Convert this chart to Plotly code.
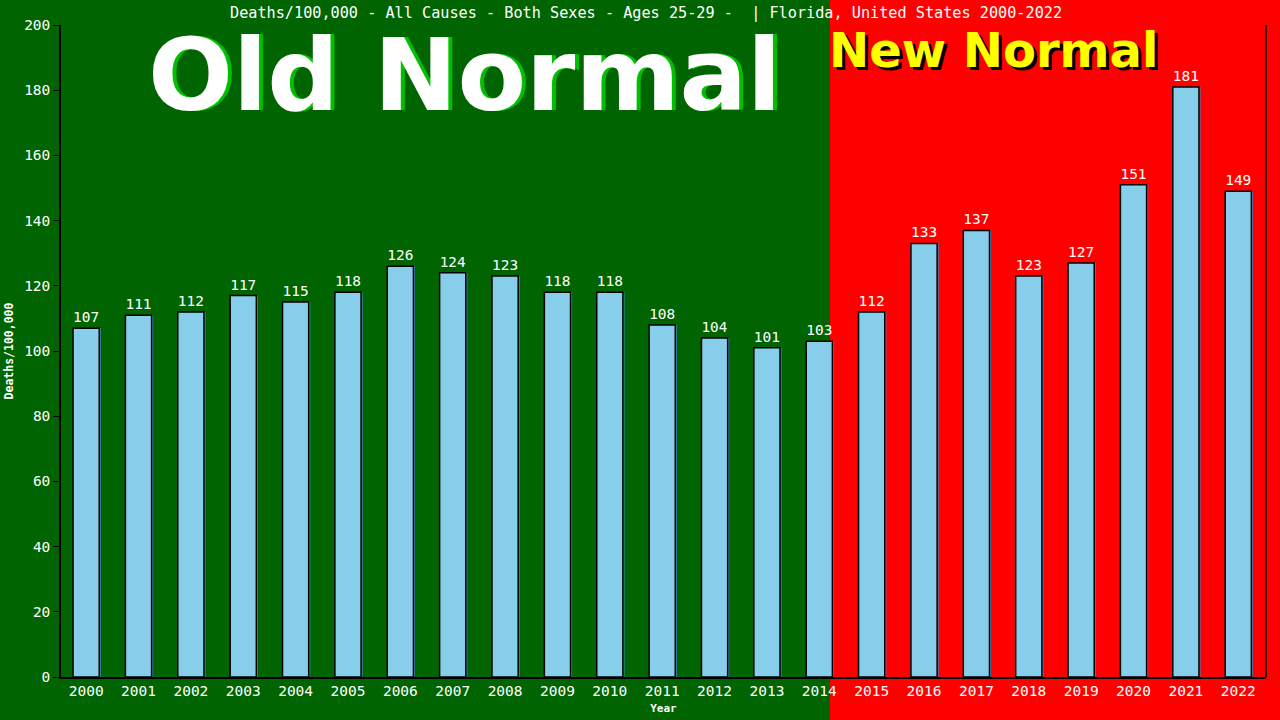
import plotly.graph_objects as go

years = [str(y) for y in range(2000, 2023)]
deaths = [107, 111, 112, 117, 115, 118, 126, 124, 123, 118, 118, 108, 104, 101, 103,
          112, 133, 137, 123, 127, 151, 181, 149]
y_ticks = list(range(0, 201, 20))

title_text = "Deaths/100,000 - All Causes - Both Sexes - Ages 25-29 -  | Florida, United States 2000-2022"

W, H = 1280, 720
L, R, T, B = 61, 14, 25, 43
pw = W - L - R
ph = H - T - B

def px_to_paper_x(px):
    return (px - L) / pw

def px_to_paper_y(py):
    return (H - B - py) / ph

mono = "DejaVu Sans Mono"
bold = "DejaVu Sans"

fig = go.Figure()
# subtle shadow behind each bar
fig.add_trace(go.Bar(
    x=years, y=deaths, width=0.5, offset=-0.22,
    marker=dict(color="#4682B4", line=dict(width=0)),
    hoverinfo="skip",
))
fig.add_trace(go.Bar(
    x=years, y=deaths, width=0.5, offset=-0.25,
    marker=dict(color="#87CEEB", line=dict(color="black", width=1.5)),
    text=[str(v) for v in deaths], textposition="outside",
    textfont=dict(color="white", family=mono, size=14.5),
    cliponaxis=False, hoverinfo="x+y",
))

shapes = [
    dict(type="rect", xref="paper", yref="paper",
         x0=px_to_paper_x(830), x1=px_to_paper_x(1300),
         y0=px_to_paper_y(730), y1=px_to_paper_y(-10),
         fillcolor="#FF0000", line=dict(width=0), layer="below"),
    dict(type="line", xref="paper", yref="paper", x0=1, x1=1, y0=0, y1=1,
         line=dict(color="black", width=1.5)),
]

annotations = [
    dict(text=title_text, xref="paper", yref="paper",
         x=px_to_paper_x(646), y=px_to_paper_y(13), showarrow=False,
         font=dict(color="white", family=mono, size=15.2), xanchor="center", yanchor="middle"),
    # Old Normal shadow + text
    dict(text="<b>Old Normal</b>", xref="paper", yref="paper",
         x=px_to_paper_x(468), y=px_to_paper_y(75), showarrow=False,
         font=dict(color="#00C000", family=bold, size=100),
         xanchor="center", yanchor="middle"),
    dict(text="<b>Old Normal</b>", xref="paper", yref="paper",
         x=px_to_paper_x(464), y=px_to_paper_y(75), showarrow=False,
         font=dict(color="white", family=bold, size=100),
         xanchor="center", yanchor="middle"),
    # New Normal shadow + text
    dict(text="<b>New Normal</b>", xref="paper", yref="paper",
         x=px_to_paper_x(996), y=px_to_paper_y(53), showarrow=False,
         font=dict(color="black", family=bold, size=48),
         xanchor="center", yanchor="middle"),
    dict(text="<b>New Normal</b>", xref="paper", yref="paper",
         x=px_to_paper_x(993), y=px_to_paper_y(50), showarrow=False,
         font=dict(color="#FFFF00", family=bold, size=48),
         xanchor="center", yanchor="middle"),
]

fig.update_layout(
    width=W, height=H,
    margin=dict(l=L, r=R, t=T, b=B, autoexpand=False),
    paper_bgcolor="#006400", plot_bgcolor="rgba(0,0,0,0)",
    showlegend=False, barmode="overlay",
    shapes=shapes, annotations=annotations,
    xaxis=dict(type="category", range=[-0.48, 22.53], showgrid=False, automargin=False,
               showline=True, linecolor="black", linewidth=1.5,
               ticks="", tickfont=dict(color="white", family=mono, size=14.5),
               title=dict(text="<b>Year</b>", font=dict(color="white", family=mono, size=11), standoff=6)),
    yaxis=dict(range=[0, 200], tickvals=y_ticks, showgrid=False, zeroline=False, automargin=False,
               showline=True, linecolor="black", linewidth=1.5,
               ticks="outside", ticklen=6, tickcolor="black",
               tickfont=dict(color="white", family=mono, size=14.5),
               title=dict(text="<b>Deaths/100,000</b>", font=dict(color="white", family=mono, size=11.5), standoff=8)),
)

fig.write_html("out.html", config={"displayModeBar": False},
               post_script="document.body.style.margin='0';document.body.style.overflow='hidden';")
